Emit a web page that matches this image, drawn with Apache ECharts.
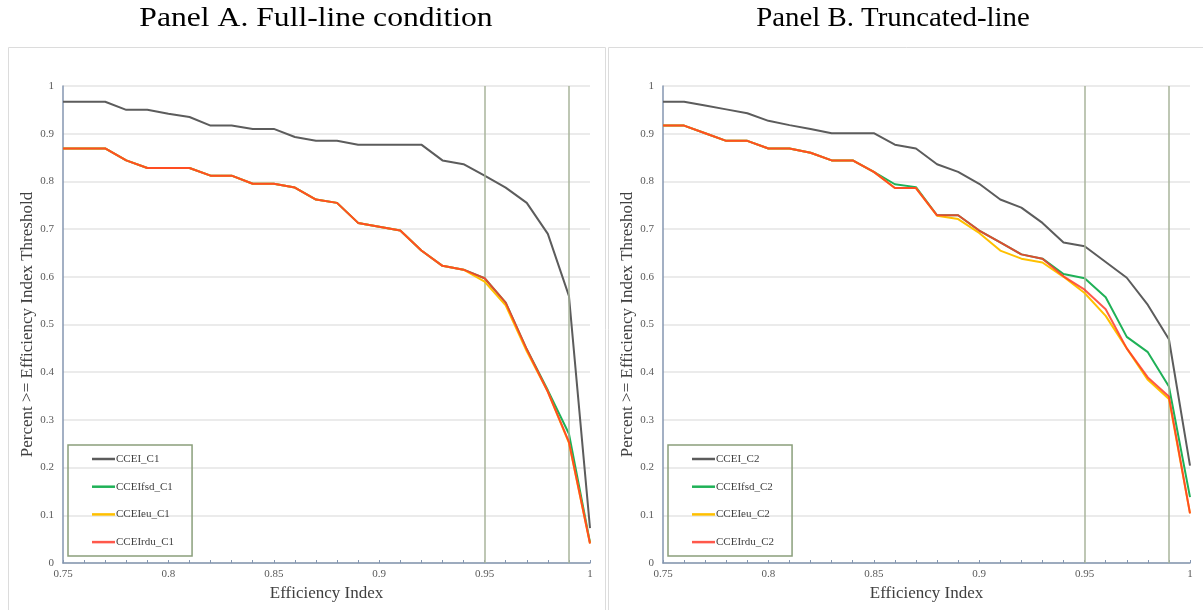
<!DOCTYPE html>
<html>
<head>
<meta charset="utf-8">
<script src="https://cdn.jsdelivr.net/npm/echarts@6/dist/echarts.min.js"></script>
<style>
  html, body { margin: 0; padding: 0; background: #ffffff; }
  #chart { width: 1203px; height: 610px; }
</style>
</head>
<body>
<div id="chart"></div>
<script>
// Efficiency index thresholds (x values shared by every curve)
const efficiency = [0.75, 0.76, 0.77, 0.78, 0.79, 0.80, 0.81, 0.82, 0.83, 0.84, 0.85, 0.86, 0.87,
                    0.88, 0.89, 0.90, 0.91, 0.92, 0.93, 0.94, 0.95, 0.96, 0.97, 0.98, 0.99, 1.00];

// Panel A: full-line condition
const ccei_C1    = [0.967, 0.967, 0.967, 0.950, 0.950, 0.942, 0.935, 0.917, 0.917, 0.910, 0.910, 0.893, 0.885,
                    0.885, 0.877, 0.877, 0.877, 0.877, 0.844, 0.836, 0.812, 0.787, 0.755, 0.690, 0.560, 0.073];
const cceiFsd_C1 = [0.869, 0.869, 0.869, 0.844, 0.828, 0.828, 0.828, 0.812, 0.812, 0.795, 0.795, 0.787, 0.762,
                    0.755, 0.713, 0.705, 0.697, 0.655, 0.623, 0.615, 0.597, 0.546, 0.448, 0.362, 0.271, 0.043];
const cceiEu_C1  = [0.869, 0.869, 0.869, 0.844, 0.828, 0.828, 0.828, 0.812, 0.812, 0.795, 0.795, 0.787, 0.762,
                    0.755, 0.713, 0.705, 0.697, 0.655, 0.623, 0.615, 0.590, 0.540, 0.444, 0.359, 0.252, 0.041];
const cceiRdu_C1 = [0.869, 0.869, 0.869, 0.844, 0.828, 0.828, 0.828, 0.812, 0.812, 0.795, 0.795, 0.787, 0.762,
                    0.755, 0.713, 0.705, 0.697, 0.655, 0.623, 0.615, 0.597, 0.546, 0.448, 0.359, 0.254, 0.041];

// Panel B: truncated-line condition
const ccei_C2    = [0.967, 0.967, 0.959, 0.951, 0.943, 0.927, 0.918, 0.910, 0.901, 0.901, 0.901, 0.877, 0.869,
                    0.836, 0.820, 0.795, 0.762, 0.745, 0.713, 0.672, 0.664, 0.631, 0.598, 0.541, 0.469, 0.204];
const cceiFsd_C2 = [0.917, 0.917, 0.901, 0.885, 0.885, 0.869, 0.869, 0.860, 0.844, 0.844, 0.820, 0.794, 0.788,
                    0.729, 0.729, 0.697, 0.672, 0.647, 0.638, 0.606, 0.597, 0.557, 0.474, 0.442, 0.370, 0.138];
const cceiEu_C2  = [0.917, 0.917, 0.901, 0.885, 0.885, 0.869, 0.869, 0.860, 0.844, 0.844, 0.820, 0.786, 0.786,
                    0.728, 0.721, 0.692, 0.655, 0.638, 0.630, 0.600, 0.566, 0.518, 0.450, 0.384, 0.344, 0.104];
const cceiRdu_C2 = [0.917, 0.917, 0.901, 0.885, 0.885, 0.869, 0.869, 0.860, 0.844, 0.844, 0.820, 0.786, 0.786,
                    0.729, 0.729, 0.697, 0.672, 0.647, 0.638, 0.601, 0.573, 0.532, 0.450, 0.389, 0.349, 0.104];

// Reference thresholds drawn as vertical rules
const thresholds = [0.95, 0.99];

const panelTitles = ['Panel A. Full-line condition', 'Panel B. Truncated-line'];
const namesA = ['CCEI_C1', 'CCEIfsd_C1', 'CCEIeu_C1', 'CCEIrdu_C1'];
const namesB = ['CCEI_C2', 'CCEIfsd_C2', 'CCEIeu_C2', 'CCEIrdu_C2'];
const xAxisTitle = 'Efficiency Index';
const yAxisTitle = 'Percent >= Efficiency Index Threshold';

const SERIF = '"Liberation Serif", "Times New Roman", serif';
const colors = ['#5c5c5c', '#1fb157', '#ffc000', 'rgba(255,56,40,0.84)'];

const pairs = vals => efficiency.map((x, i) => [x, vals[i]]);

function makeSeries(names, valueSets, idx) {
  return names.map((name, k) => {
    const s = {
      name: name,
      type: 'line',
      xAxisIndex: idx,
      yAxisIndex: idx,
      data: pairs(valueSets[k]),
      symbol: 'none',
      showSymbol: false,
      smooth: false,
      color: colors[k],
      lineStyle: { width: 2, color: colors[k] },
      z: 3 + k,
      animation: false
    };
    if (k === 0) {
      s.markLine = {
        silent: true,
        symbol: 'none',
        label: { show: false },
        lineStyle: { color: '#a8b49b', width: 1.5, type: 'solid' },
        data: thresholds.map(t => ({ xAxis: t })),
        animation: false
      };
    }
    return s;
  });
}

function makeXAxis(idx) {
  return {
    type: 'value', gridIndex: idx,
    min: 0.75, max: 1, interval: 0.05,
    name: xAxisTitle, nameLocation: 'middle', nameGap: 22,
    nameTextStyle: { fontFamily: SERIF, fontSize: 17, color: '#404040' },
    axisLine: { show: true, onZero: false, lineStyle: { color: '#8496b0', width: 1.5 } },
    axisTick: { show: true, inside: true, length: 3, lineStyle: { color: '#8496b0' } },
    minorTick: { show: true, splitNumber: 5, length: 3, lineStyle: { color: '#8496b0' } },
    axisLabel: { fontFamily: SERIF, fontSize: 11, color: '#595959', margin: 6 },
    splitLine: { show: false }
  };
}

function makeYAxis(idx) {
  return {
    type: 'value', gridIndex: idx,
    min: 0, max: 1, interval: 0.1,
    name: yAxisTitle, nameLocation: 'middle', nameGap: 24, nameRotate: 90,
    nameTextStyle: { fontFamily: SERIF, fontSize: 17, color: '#404040' },
    axisLine: { show: true, lineStyle: { color: '#8496b0', width: 1.5 } },
    axisTick: { show: false },
    axisLabel: { fontFamily: SERIF, fontSize: 11, color: '#595959', margin: 9 },
    splitLine: { show: true, lineStyle: { color: '#e4e4e4', width: 1.5 } }
  };
}

function makeLegend(names, left) {
  return {
    data: names,
    orient: 'vertical',
    left: left, top: 445,
    icon: 'rect',
    itemWidth: 23, itemHeight: 2.5, itemGap: 13.7,
    padding: [7, 18, 7, 24],
    borderColor: '#8a9f7b', borderWidth: 1.5,
    textStyle: { fontFamily: SERIF, fontSize: 11, color: '#404040', lineHeight: 14,
                 height: 14, padding: [0, 0, 0, -4] },
    selectedMode: false
  };
}

function titleText(text, cx, sx) {
  return {
    type: 'text', x: cx, y: 19, scaleX: sx, scaleY: 1, silent: true,
    style: { text: text, fontFamily: SERIF, fontSize: 28, fill: '#000000',
             textAlign: 'center', textVerticalAlign: 'middle' }
  };
}

const chart = echarts.init(document.getElementById('chart'), null, { renderer: 'canvas' });

chart.setOption({
  backgroundColor: '#ffffff',
  animation: false,
  graphic: [
    titleText(panelTitles[0], 316, 1.13),
    titleText(panelTitles[1], 893, 1.03),
    { type: 'rect', shape: { x: 8.5, y: 47.5, width: 597, height: 600 },
      style: { fill: 'none', stroke: '#dcdcdc', lineWidth: 1 }, silent: true, z: -1 },
    { type: 'rect', shape: { x: 608.5, y: 47.5, width: 610, height: 600 },
      style: { fill: 'none', stroke: '#dcdcdc', lineWidth: 1 }, silent: true, z: -1 }
  ],
  legend: [makeLegend(namesA, 68), makeLegend(namesB, 668)],
  grid: [
    { left: 63, top: 86, width: 527, height: 477, containLabel: false },
    { left: 663, top: 86, width: 527, height: 477, containLabel: false }
  ],
  xAxis: [makeXAxis(0), makeXAxis(1)],
  yAxis: [makeYAxis(0), makeYAxis(1)],
  series: [
    ...makeSeries(namesA, [ccei_C1, cceiFsd_C1, cceiEu_C1, cceiRdu_C1], 0),
    ...makeSeries(namesB, [ccei_C2, cceiFsd_C2, cceiEu_C2, cceiRdu_C2], 1)
  ]
});
</script>
</body>
</html>
